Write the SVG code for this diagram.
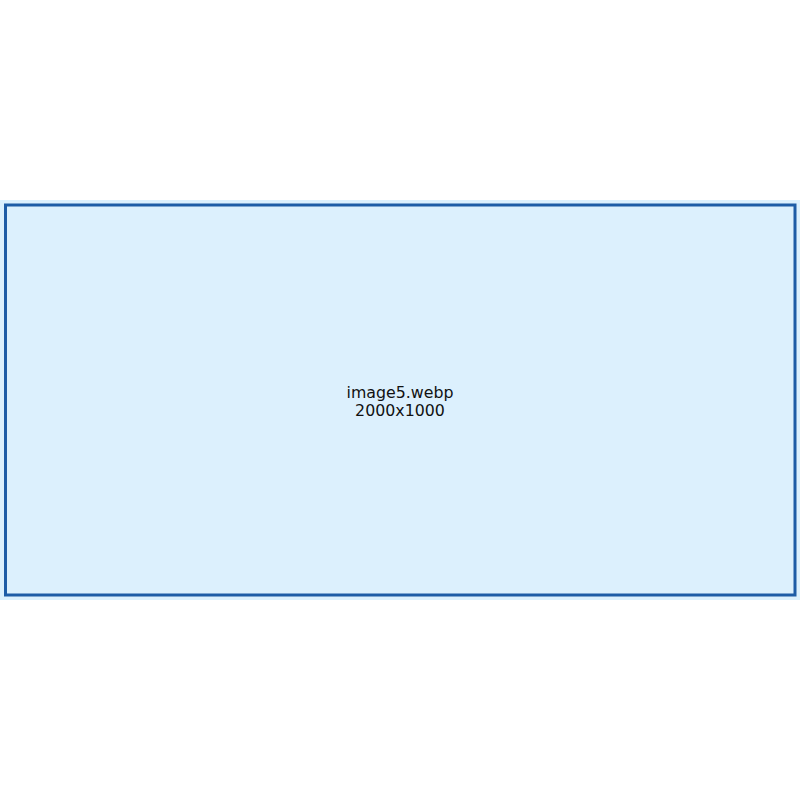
<svg xmlns="http://www.w3.org/2000/svg" width="800" height="800" viewBox="0 0 800 800">
<style>
.lbl{font-family:"DejaVu Sans",sans-serif;font-size:15.8px;fill:#111;text-anchor:middle}
</style>
<rect x="0" y="0" width="800" height="800" fill="#ffffff"/>
<g id="image-placeholder">
<rect x="0" y="200" width="800" height="400" fill="#dcf0fd"/>
<rect x="5.5" y="205" width="789.5" height="390" fill="#dcf0fd" stroke="#1e5ca6" stroke-width="3"/>
<text class="lbl" x="400" y="398">image5.webp</text>
<text class="lbl" x="400" y="416">2000x1000</text>
</g>
<g id="connectors"></g>
</svg>
